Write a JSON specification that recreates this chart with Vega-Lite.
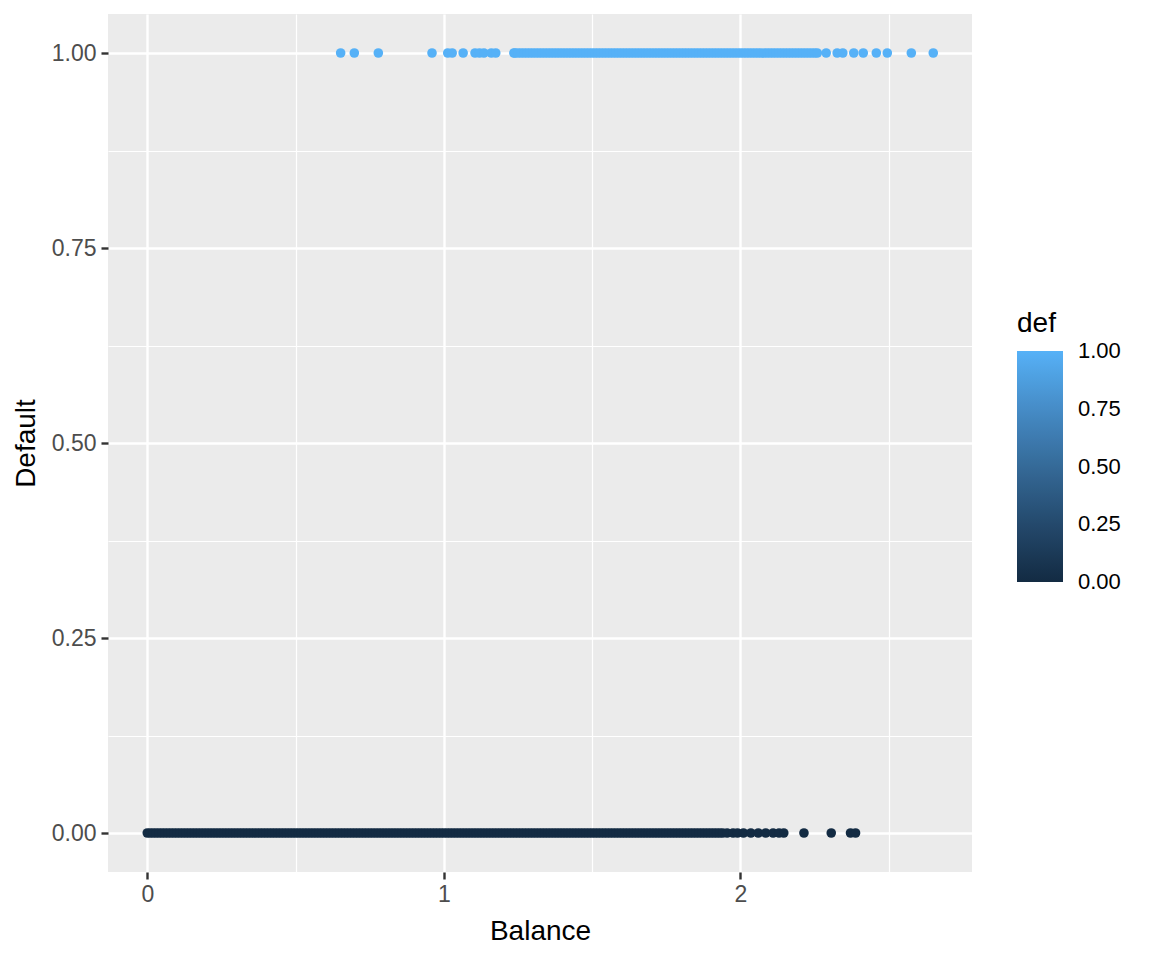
{
  "$schema": "https://vega.github.io/schema/vega-lite/v6.json",
  "width": 864,
  "height": 858,
  "autosize": "none",
  "padding": {"left": 108, "top": 14, "right": 180, "bottom": 88},
  "background": "white",
  "config": {
    "font": "Liberation Sans",
    "view": {"fill": "#EBEBEB", "stroke": null}
  },
  "datasets": {
    "pts": [
      {"balance":0.00,"def":0},{"balance":0.01,"def":0},{"balance":0.02,"def":0},{"balance":0.03,"def":0},{"balance":0.04,"def":0},{"balance":0.05,"def":0},{"balance":0.06,"def":0},{"balance":0.07,"def":0},{"balance":0.08,"def":0},{"balance":0.09,"def":0},
      {"balance":0.10,"def":0},{"balance":0.11,"def":0},{"balance":0.12,"def":0},{"balance":0.13,"def":0},{"balance":0.14,"def":0},{"balance":0.15,"def":0},{"balance":0.16,"def":0},{"balance":0.17,"def":0},{"balance":0.18,"def":0},{"balance":0.19,"def":0},
      {"balance":0.20,"def":0},{"balance":0.21,"def":0},{"balance":0.22,"def":0},{"balance":0.23,"def":0},{"balance":0.24,"def":0},{"balance":0.25,"def":0},{"balance":0.26,"def":0},{"balance":0.27,"def":0},{"balance":0.28,"def":0},{"balance":0.29,"def":0},
      {"balance":0.30,"def":0},{"balance":0.31,"def":0},{"balance":0.32,"def":0},{"balance":0.33,"def":0},{"balance":0.34,"def":0},{"balance":0.35,"def":0},{"balance":0.36,"def":0},{"balance":0.37,"def":0},{"balance":0.38,"def":0},{"balance":0.39,"def":0},
      {"balance":0.40,"def":0},{"balance":0.41,"def":0},{"balance":0.42,"def":0},{"balance":0.43,"def":0},{"balance":0.44,"def":0},{"balance":0.45,"def":0},{"balance":0.46,"def":0},{"balance":0.47,"def":0},{"balance":0.48,"def":0},{"balance":0.49,"def":0},
      {"balance":0.50,"def":0},{"balance":0.51,"def":0},{"balance":0.52,"def":0},{"balance":0.53,"def":0},{"balance":0.54,"def":0},{"balance":0.55,"def":0},{"balance":0.56,"def":0},{"balance":0.57,"def":0},{"balance":0.58,"def":0},{"balance":0.59,"def":0},
      {"balance":0.60,"def":0},{"balance":0.61,"def":0},{"balance":0.62,"def":0},{"balance":0.63,"def":0},{"balance":0.64,"def":0},{"balance":0.65,"def":0},{"balance":0.66,"def":0},{"balance":0.67,"def":0},{"balance":0.68,"def":0},{"balance":0.69,"def":0},
      {"balance":0.70,"def":0},{"balance":0.71,"def":0},{"balance":0.72,"def":0},{"balance":0.73,"def":0},{"balance":0.74,"def":0},{"balance":0.75,"def":0},{"balance":0.76,"def":0},{"balance":0.77,"def":0},{"balance":0.78,"def":0},{"balance":0.79,"def":0},
      {"balance":0.80,"def":0},{"balance":0.81,"def":0},{"balance":0.82,"def":0},{"balance":0.83,"def":0},{"balance":0.84,"def":0},{"balance":0.85,"def":0},{"balance":0.86,"def":0},{"balance":0.87,"def":0},{"balance":0.88,"def":0},{"balance":0.89,"def":0},
      {"balance":0.90,"def":0},{"balance":0.91,"def":0},{"balance":0.92,"def":0},{"balance":0.93,"def":0},{"balance":0.94,"def":0},{"balance":0.95,"def":0},{"balance":0.96,"def":0},{"balance":0.97,"def":0},{"balance":0.98,"def":0},{"balance":0.99,"def":0},
      {"balance":1.00,"def":0},{"balance":1.01,"def":0},{"balance":1.02,"def":0},{"balance":1.03,"def":0},{"balance":1.04,"def":0},{"balance":1.05,"def":0},{"balance":1.06,"def":0},{"balance":1.07,"def":0},{"balance":1.08,"def":0},{"balance":1.09,"def":0},
      {"balance":1.10,"def":0},{"balance":1.11,"def":0},{"balance":1.12,"def":0},{"balance":1.13,"def":0},{"balance":1.14,"def":0},{"balance":1.15,"def":0},{"balance":1.16,"def":0},{"balance":1.17,"def":0},{"balance":1.18,"def":0},{"balance":1.19,"def":0},
      {"balance":1.20,"def":0},{"balance":1.21,"def":0},{"balance":1.22,"def":0},{"balance":1.23,"def":0},{"balance":1.24,"def":0},{"balance":1.25,"def":0},{"balance":1.26,"def":0},{"balance":1.27,"def":0},{"balance":1.28,"def":0},{"balance":1.29,"def":0},
      {"balance":1.30,"def":0},{"balance":1.31,"def":0},{"balance":1.32,"def":0},{"balance":1.33,"def":0},{"balance":1.34,"def":0},{"balance":1.35,"def":0},{"balance":1.36,"def":0},{"balance":1.37,"def":0},{"balance":1.38,"def":0},{"balance":1.39,"def":0},
      {"balance":1.40,"def":0},{"balance":1.41,"def":0},{"balance":1.42,"def":0},{"balance":1.43,"def":0},{"balance":1.44,"def":0},{"balance":1.45,"def":0},{"balance":1.46,"def":0},{"balance":1.47,"def":0},{"balance":1.48,"def":0},{"balance":1.49,"def":0},
      {"balance":1.50,"def":0},{"balance":1.51,"def":0},{"balance":1.52,"def":0},{"balance":1.53,"def":0},{"balance":1.54,"def":0},{"balance":1.55,"def":0},{"balance":1.56,"def":0},{"balance":1.57,"def":0},{"balance":1.58,"def":0},{"balance":1.59,"def":0},
      {"balance":1.60,"def":0},{"balance":1.61,"def":0},{"balance":1.62,"def":0},{"balance":1.63,"def":0},{"balance":1.64,"def":0},{"balance":1.65,"def":0},{"balance":1.66,"def":0},{"balance":1.67,"def":0},{"balance":1.68,"def":0},{"balance":1.69,"def":0},
      {"balance":1.70,"def":0},{"balance":1.71,"def":0},{"balance":1.72,"def":0},{"balance":1.73,"def":0},{"balance":1.74,"def":0},{"balance":1.75,"def":0},{"balance":1.76,"def":0},{"balance":1.77,"def":0},{"balance":1.78,"def":0},{"balance":1.79,"def":0},
      {"balance":1.80,"def":0},{"balance":1.81,"def":0},{"balance":1.82,"def":0},{"balance":1.83,"def":0},{"balance":1.84,"def":0},{"balance":1.85,"def":0},{"balance":1.86,"def":0},{"balance":1.87,"def":0},{"balance":1.88,"def":0},{"balance":1.89,"def":0},
      {"balance":1.90,"def":0},{"balance":1.91,"def":0},{"balance":1.92,"def":0},{"balance":1.93,"def":0},{"balance":1.94,"def":0},{"balance":1.955,"def":0},
      {"balance":1.975,"def":0},{"balance":1.99,"def":0},{"balance":2.01,"def":0},{"balance":2.035,"def":0},{"balance":2.06,"def":0},{"balance":2.085,"def":0},{"balance":2.11,"def":0},{"balance":2.13,"def":0},{"balance":2.146,"def":0},
      {"balance":2.214,"def":0},{"balance":2.306,"def":0},{"balance":2.371,"def":0},{"balance":2.388,"def":0},
      {"balance":0.652,"def":1},{"balance":0.698,"def":1},{"balance":0.779,"def":1},{"balance":0.960,"def":1},{"balance":1.013,"def":1},{"balance":1.028,"def":1},{"balance":1.065,"def":1},{"balance":1.105,"def":1},{"balance":1.12,"def":1},{"balance":1.135,"def":1},{"balance":1.16,"def":1},{"balance":1.175,"def":1},
      {"balance":1.236,"def":1},{"balance":1.24,"def":1},{"balance":1.25,"def":1},{"balance":1.26,"def":1},{"balance":1.27,"def":1},{"balance":1.28,"def":1},{"balance":1.29,"def":1},
      {"balance":1.30,"def":1},{"balance":1.31,"def":1},{"balance":1.32,"def":1},{"balance":1.33,"def":1},{"balance":1.34,"def":1},{"balance":1.35,"def":1},{"balance":1.36,"def":1},{"balance":1.37,"def":1},{"balance":1.38,"def":1},{"balance":1.39,"def":1},
      {"balance":1.40,"def":1},{"balance":1.41,"def":1},{"balance":1.42,"def":1},{"balance":1.43,"def":1},{"balance":1.44,"def":1},{"balance":1.45,"def":1},{"balance":1.46,"def":1},{"balance":1.47,"def":1},{"balance":1.48,"def":1},{"balance":1.49,"def":1},
      {"balance":1.50,"def":1},{"balance":1.51,"def":1},{"balance":1.52,"def":1},{"balance":1.53,"def":1},{"balance":1.54,"def":1},{"balance":1.55,"def":1},{"balance":1.56,"def":1},{"balance":1.57,"def":1},{"balance":1.58,"def":1},{"balance":1.59,"def":1},
      {"balance":1.60,"def":1},{"balance":1.61,"def":1},{"balance":1.62,"def":1},{"balance":1.63,"def":1},{"balance":1.64,"def":1},{"balance":1.65,"def":1},{"balance":1.66,"def":1},{"balance":1.67,"def":1},{"balance":1.68,"def":1},{"balance":1.69,"def":1},
      {"balance":1.70,"def":1},{"balance":1.71,"def":1},{"balance":1.72,"def":1},{"balance":1.73,"def":1},{"balance":1.74,"def":1},{"balance":1.75,"def":1},{"balance":1.76,"def":1},{"balance":1.77,"def":1},{"balance":1.78,"def":1},{"balance":1.79,"def":1},
      {"balance":1.80,"def":1},{"balance":1.81,"def":1},{"balance":1.82,"def":1},{"balance":1.83,"def":1},{"balance":1.84,"def":1},{"balance":1.85,"def":1},{"balance":1.86,"def":1},{"balance":1.87,"def":1},{"balance":1.88,"def":1},{"balance":1.89,"def":1},
      {"balance":1.90,"def":1},{"balance":1.91,"def":1},{"balance":1.92,"def":1},{"balance":1.93,"def":1},{"balance":1.94,"def":1},{"balance":1.95,"def":1},{"balance":1.96,"def":1},{"balance":1.97,"def":1},{"balance":1.98,"def":1},{"balance":1.99,"def":1},
      {"balance":2.00,"def":1},{"balance":2.01,"def":1},{"balance":2.02,"def":1},{"balance":2.03,"def":1},{"balance":2.04,"def":1},{"balance":2.05,"def":1},{"balance":2.06,"def":1},{"balance":2.07,"def":1},{"balance":2.08,"def":1},{"balance":2.09,"def":1},
      {"balance":2.10,"def":1},{"balance":2.11,"def":1},{"balance":2.12,"def":1},{"balance":2.13,"def":1},{"balance":2.14,"def":1},{"balance":2.15,"def":1},{"balance":2.16,"def":1},{"balance":2.17,"def":1},{"balance":2.18,"def":1},{"balance":2.19,"def":1},
      {"balance":2.20,"def":1},{"balance":2.21,"def":1},{"balance":2.22,"def":1},{"balance":2.23,"def":1},{"balance":2.24,"def":1},{"balance":2.25,"def":1},{"balance":2.259,"def":1},
      {"balance":2.289,"def":1},{"balance":2.326,"def":1},{"balance":2.345,"def":1},{"balance":2.382,"def":1},{"balance":2.414,"def":1},{"balance":2.458,"def":1},{"balance":2.495,"def":1},{"balance":2.576,"def":1},{"balance":2.650,"def":1}
    ]
  },
  "data": {"name": "pts"},
  "mark": {"type": "circle", "size": 92, "opacity": 1},
  "encoding": {
    "x": {
      "field": "balance",
      "type": "quantitative",
      "scale": {"domain": [-0.1324, 2.7806], "nice": false, "zero": false},
      "axis": {
        "title": "Balance",
        "values": [0, 0.5, 1, 1.5, 2, 2.5],
        "labelExpr": "datum.value % 1 === 0 ? format(datum.value, 'd') : ''",
        "domain": false,
        "grid": true,
        "gridColor": "white",
        "gridWidth": {"condition": {"test": "datum.value % 1 !== 0", "value": 1.2}, "value": 2.4},
        "tickColor": {"condition": {"test": "datum.value % 1 !== 0", "value": "transparent"}, "value": "#333333"},
        "tickSize": 7,
        "tickWidth": 2.4,
        "labelFontSize": 23,
        "labelColor": "#4D4D4D",
        "labelPadding": 4,
        "titleFontSize": 28,
        "titleFontWeight": "normal",
        "titleColor": "black",
        "titlePadding": 11
      }
    },
    "y": {
      "field": "def",
      "type": "quantitative",
      "scale": {"domain": [-0.05, 1.05], "nice": false, "zero": false},
      "axis": {
        "title": "Default",
        "values": [0, 0.125, 0.25, 0.375, 0.5, 0.625, 0.75, 0.875, 1],
        "labelExpr": "(datum.value * 4) % 1 === 0 ? format(datum.value, '.2f') : ''",
        "domain": false,
        "grid": true,
        "gridColor": "white",
        "gridWidth": {"condition": {"test": "(datum.value * 4) % 1 !== 0", "value": 1.2}, "value": 2.4},
        "tickColor": {"condition": {"test": "(datum.value * 4) % 1 !== 0", "value": "transparent"}, "value": "#333333"},
        "tickSize": 7,
        "tickWidth": 2.4,
        "labelFontSize": 23,
        "labelColor": "#4D4D4D",
        "labelPadding": 5,
        "titleFontSize": 28,
        "titleFontWeight": "normal",
        "titleColor": "black",
        "titlePadding": 11
      }
    },
    "color": {
      "field": "def",
      "type": "quantitative",
      "scale": {"domain": [-0.002, 1.002], "range": ["#132B43", "#56B1F7"]},
      "legend": {
        "title": "def",
        "orient": "none",
        "legendX": 909,
        "legendY": 296,
        "direction": "vertical",
        "gradientLength": 231,
        "gradientThickness": 46,
        "gradientStrokeWidth": 0,
        "values": [0, 0.25, 0.5, 0.75, 1],
        "format": ".2f",
        "labelFontSize": 22,
        "labelColor": "black",
        "labelOffset": 15,
        "labelBaseline": "middle",
        "titleFontSize": 28,
        "titleFontWeight": "normal",
        "titleColor": "black",
        "titlePadding": 13
      }
    }
  }
}
